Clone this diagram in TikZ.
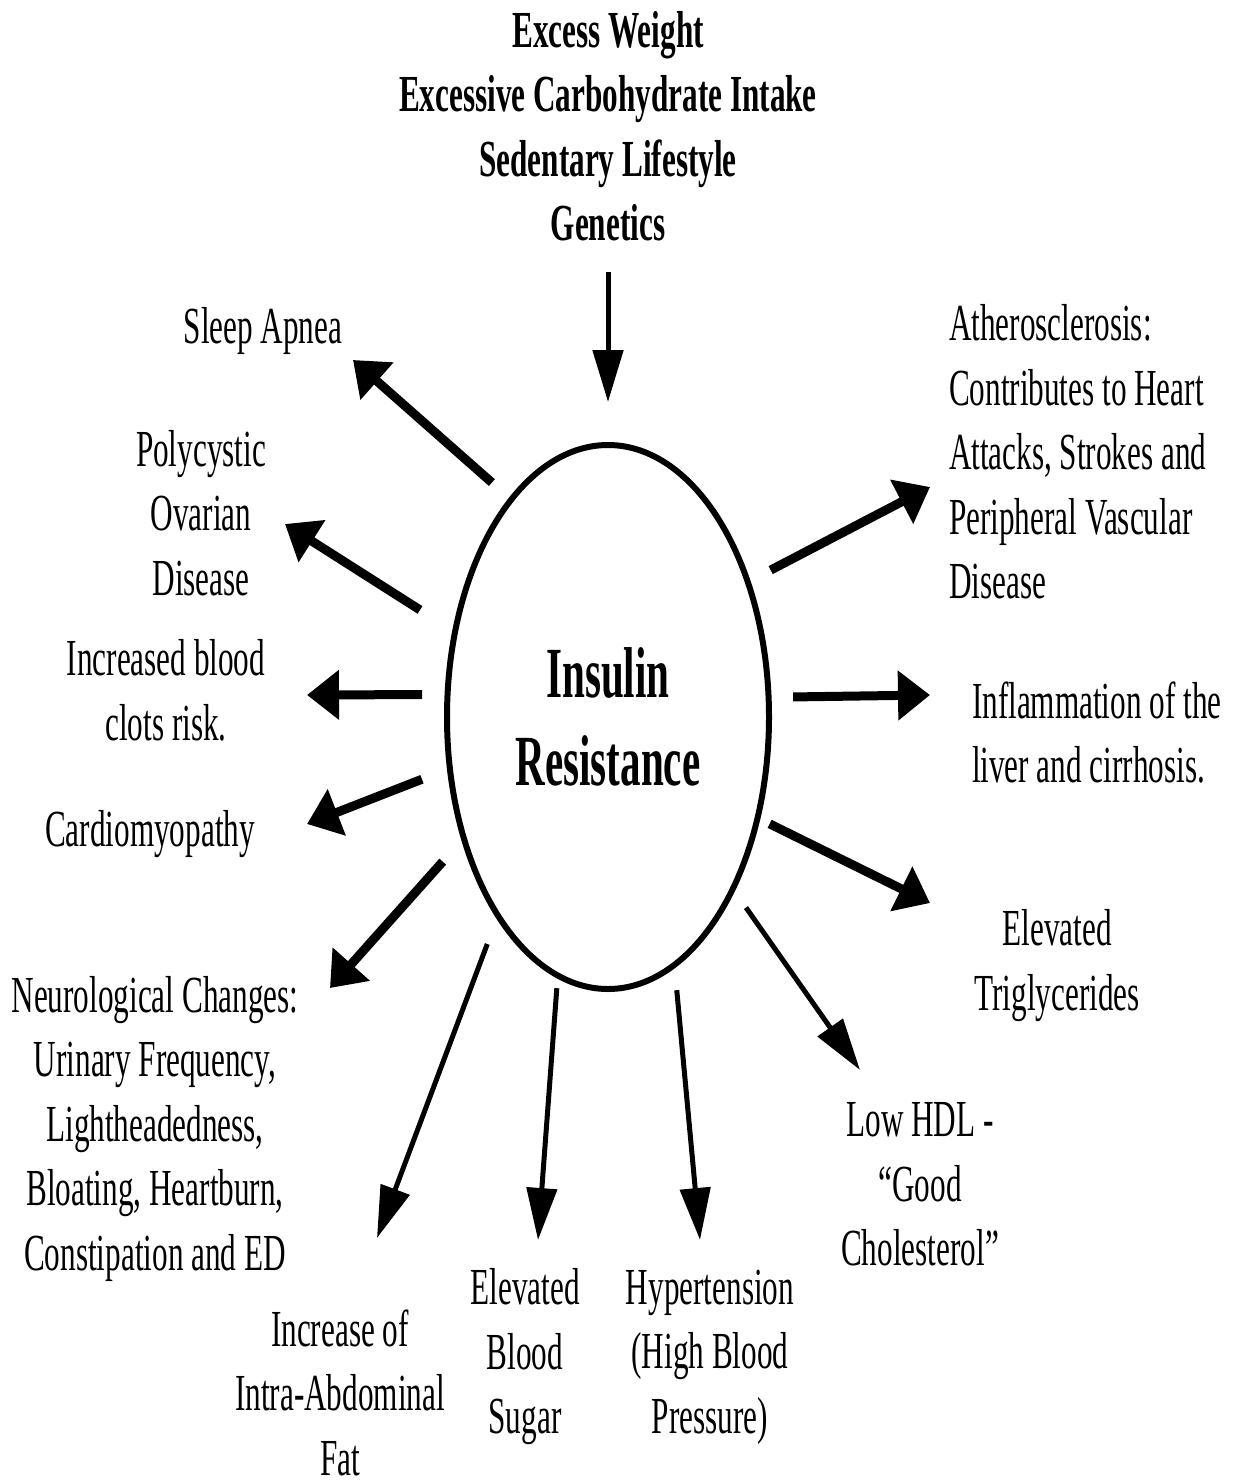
\documentclass[tikz,border=0pt]{standalone}
\usepackage{fontspec}
\setmainfont{Liberation Serif}[FakeStretch=0.6]
\newfontfamily\titlefont{Liberation Serif}[FakeStretch=0.57]
\usetikzlibrary{arrows.meta,shapes.geometric}
\begin{document}
\begin{tikzpicture}[x=1pt,y=-1pt,
  lbl/.style={inner sep=0pt, outer sep=0pt, align=center,
    font=\fontsize{52}{64.5}\selectfont,
    execute at begin node=\strut, execute at end node=\strut},
  lbll/.style={lbl, align=left, anchor=west},
  heavy/.style={line width=9pt, -{Triangle[length=32pt,width=48pt]}},
  light/.style={line width=5pt, -{Triangle[length=52pt,width=30pt]}}]

\fill[white] (0,0) rectangle (1238,1482);
\useasboundingbox (0,0) rectangle (1238,1482);

% central condition
\node[draw, ellipse, line width=6pt, minimum width=322pt, minimum height=544pt,
      inner sep=0pt, outer sep=0pt, align=center,
      font=\titlefont\bfseries\fontsize{72}{88}\selectfont] (ir) at (608,717)
      {Insulin\\Resistance};

% causes
\node[lbl, font=\fontsize{52}{64.5}\selectfont\bfseries] (causes) at (608,135.5)
  {Excess Weight\\Excessive Carbohydrate Intake\\Sedentary Lifestyle\\Genetics};

% consequences
\node[lbl] (sleep)  at (263,331)   {Sleep Apnea};
\node[lbl] (pcos)   at (201,522.5) {Polycystic\\Ovarian\\Disease};
\node[lbl] (clots)  at (166,699.5) {Increased blood\\clots risk.};
\node[lbl] (cardio) at (150,834)   {Cardiomyopathy};
\node[lbl] (neuro)  at (155,1133)  {Neurological Changes:\\Urinary Frequency,\\Lightheadedness,\\Bloating, Heartburn,\\Constipation and ED};
\node[lbl] (fat)    at (340,1402)  {Increase of\\Intra-Abdominal\\Fat};
\node[lbl] (sugar)  at (525,1361)  {Elevated\\Blood\\Sugar};
\node[lbl] (hyper)  at (710,1361)  {Hypertension\\(High Blood\\Pressure)};
\node[lbl] (hdl)    at (920,1194)  {Low HDL -\\“Good\\Cholesterol”};
\node[lbl] (trig)   at (1057,969.5){Elevated\\Triglycerides};
\node[lbll] (liver) at (972,742)   {Inflammation of the\\liver and cirrhosis.};
\node[lbll] (athero) at (949,461.5){Atherosclerosis:\\Contributes to Heart\\Attacks, Strokes and\\Peripheral Vascular\\Disease};

% arrow tips
\coordinate (tSleep)  at (353,360);
\coordinate (tPcos)   at (285,524);
\coordinate (tClots)  at (307,695);
\coordinate (tCardio) at (307,824);
\coordinate (tNeuro)  at (330,988);
\coordinate (tFat)    at (377,1238);
\coordinate (tSugar)  at (538,1240);
\coordinate (tHyper)  at (700,1240);
\coordinate (tHdl)    at (860,1070);
\coordinate (tTrig)   at (930,903);
\coordinate (tLiver)  at (930,695);
\coordinate (tAthero) at (930,487);

% arrows
\draw[light, shorten <=12pt, shorten >=43pt] (causes.south) -- (ir.north);
\draw[heavy, shorten <=25.8pt] (ir.114.7) -- (tSleep);
\draw[heavy, shorten <=41.5pt] (ir.151.0) -- (tPcos);
\draw[heavy, shorten <=25.5pt] (ir.172.2) -- (tClots);
\draw[heavy, shorten <=30.0pt] (ir.198.3) -- (tCardio);
\draw[heavy, shorten <=31.7pt] (ir.220.4) -- (tNeuro);
\draw[light, shorten <=30.4pt] (ir.241.8) -- (tFat);
\draw[light, shorten <=12.8pt] (ir.259.8) -- (tSugar);
\draw[light, shorten <=25.5pt] (ir.285.1) -- (tHyper);
\draw[light, shorten <=22.9pt] (ir.306.7) -- (tHdl);
\draw[heavy, shorten <=13.5pt] (ir.326.6) -- (tTrig);
\draw[heavy, shorten <=24.5pt] (ir.7.8) -- (tLiver);
\draw[heavy, shorten <=25.8pt] (ir.44.65) -- (tAthero);
\end{tikzpicture}
\end{document}
